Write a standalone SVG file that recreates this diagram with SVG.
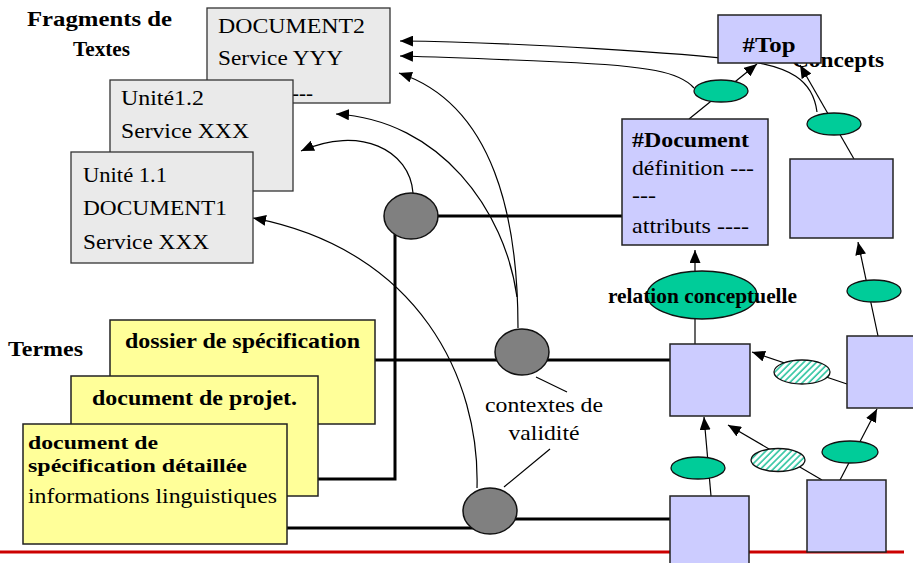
<svg xmlns="http://www.w3.org/2000/svg" width="913" height="563" viewBox="0 0 913 563">
  <style>
    text { font-family: "Liberation Serif", "Times New Roman", serif; font-size: 21px; fill: #000; }
    .b { font-weight: bold; }
    .s20 { font-size: 19px; }
    .frag { fill: #EAEAEA; stroke: #333; stroke-width: 1.3; }
    .term { fill: #FFFF99; stroke: #222; stroke-width: 1.5; }
    .concept { fill: #CCCCFF; stroke: #222; stroke-width: 1.5; }
    .ctx { fill: #808080; stroke: #111; stroke-width: 1.5; }
    .rel { fill: #00CC99; stroke: #111; stroke-width: 1.3; }
    .relh { fill: url(#hatch); stroke: #111; stroke-width: 1.3; }
    .thin { fill: none; stroke: #000; stroke-width: 1.2; }
    .thick { fill: none; stroke: #000; stroke-width: 3; }
    .arr { marker-end: url(#tip); }
  </style>
  <defs>
    <marker id="tip" markerUnits="userSpaceOnUse" markerWidth="13" markerHeight="11" refX="13" refY="5.5" orient="auto">
      <path d="M0,0 L13,5.5 L0,11 z" fill="#000"/>
    </marker>
    <pattern id="hatch" patternUnits="userSpaceOnUse" width="4.5" height="4.5" patternTransform="rotate(45)">
      <rect width="4.5" height="4.5" fill="#fff"/>
      <line x1="1" y1="0" x2="1" y2="4.5" stroke="#2EC4A0" stroke-width="1.6"/>
    </pattern>
  </defs>

  <rect width="913" height="563" fill="#fff"/>

  <!-- baseline rule -->
  <line x1="0" y1="552" x2="904" y2="552" stroke="#CC0000" stroke-width="3"/>

  <!-- section titles -->
  <g id="titles">
    <text class="b" x="27" y="26" textLength="145" lengthAdjust="spacingAndGlyphs">Fragments  de</text>
    <text class="b" x="73" y="56" textLength="57" lengthAdjust="spacingAndGlyphs">Textes</text>
    <text class="b" x="8" y="356" textLength="75" lengthAdjust="spacingAndGlyphs">Termes</text>
    <text class="b" x="792" y="67" textLength="92" lengthAdjust="spacingAndGlyphs">Concepts</text>
  </g>

  <g id="connectors">
    <!-- links from contexts to text fragments -->
    <path class="thin arr" d="M817,112 C813,80 790,66 740,60 S520,42 400,41"/>
    <path class="thin arr" d="M694,88 C680,72 650,66 560,62 S440,57 400,56"/>
    <path class="thin arr" d="M518,328 C518,220 495,105 399,73"/>
    <path class="thin arr" d="M517,297 C505,210 440,120 336,114"/>
    <path class="thin arr" d="M413,193 C410,150 360,125 301,151"/>
    <path class="thin arr" d="M477,488 C480,380 420,250 253,218"/>

    <!-- term / concept links through contexts -->
    <path class="thick" d="M411,216 H622"/>
    <path class="thick" d="M395,225 V479 H318"/>
    <path class="thick" d="M375,360 H670"/>
    <path class="thick" d="M287,528 H480"/>
    <path class="thick" d="M490,519 H670"/>

    <!-- label leaders -->
    <line class="thin" x1="536" y1="377" x2="567" y2="392"/>
    <line class="thin" x1="550" y1="449" x2="504" y2="487"/>

    <!-- conceptual relations -->
    <line class="thin arr" x1="689" y1="119" x2="757" y2="64"/>
    <line class="thin arr" x1="854" y1="159" x2="800" y2="65"/>
    <line class="thin arr" x1="695" y1="344" x2="695" y2="250"/>
    <line class="thin arr" x1="711" y1="496" x2="704" y2="417"/>
    <line class="thin arr" x1="822" y1="480" x2="728" y2="425"/>
    <line class="thin arr" x1="840" y1="480" x2="877" y2="409"/>
    <line class="thin arr" x1="847" y1="384" x2="752" y2="352"/>
    <line class="thin arr" x1="878" y1="336" x2="858" y2="242"/>
  </g>

  <!-- text fragments -->
  <g id="frag-document2">
    <rect class="frag" x="207" y="8" width="183" height="95"/>
    <text x="218" y="33" textLength="147" lengthAdjust="spacingAndGlyphs">DOCUMENT2</text>
    <text x="218" y="65" textLength="125" lengthAdjust="spacingAndGlyphs">Service YYY</text>
    <text x="313" y="100" text-anchor="end">----</text>
  </g>
  <g id="frag-unite12">
    <rect class="frag" x="110" y="80" width="183" height="111"/>
    <text x="121" y="105" textLength="83" lengthAdjust="spacingAndGlyphs">Unité1.2</text>
    <text x="121" y="138" textLength="128" lengthAdjust="spacingAndGlyphs">Service XXX</text>
  </g>
  <g id="frag-unite11">
    <rect class="frag" x="71" y="152" width="182" height="111"/>
    <text x="83" y="182" textLength="84" lengthAdjust="spacingAndGlyphs">Unité 1.1</text>
    <text x="83" y="215" textLength="144" lengthAdjust="spacingAndGlyphs">DOCUMENT1</text>
    <text x="83" y="249" textLength="126" lengthAdjust="spacingAndGlyphs">Service XXX</text>
  </g>

  <!-- terms -->
  <g id="term-dossier">
    <rect class="term" x="110" y="320" width="265" height="104"/>
    <text class="b" x="125" y="348" textLength="235" lengthAdjust="spacingAndGlyphs">dossier de spécification</text>
  </g>
  <g id="term-projet">
    <rect class="term" x="71" y="376" width="247" height="120"/>
    <text class="b" x="92" y="405" textLength="205" lengthAdjust="spacingAndGlyphs">document de projet.</text>
  </g>
  <g id="term-detaillee">
    <rect class="term" x="23" y="424" width="264" height="120"/>
    <text class="b s20" x="28" y="449" textLength="130" lengthAdjust="spacingAndGlyphs">document de</text>
    <text class="b s20" x="28" y="472" textLength="219" lengthAdjust="spacingAndGlyphs">spécification détaillée</text>
    <text x="28" y="503" textLength="249" lengthAdjust="spacingAndGlyphs">informations linguistiques</text>
  </g>

  <!-- validity contexts -->
  <g id="ctx-1"><ellipse class="ctx" cx="411" cy="216" rx="27" ry="23"/></g>
  <g id="ctx-2"><ellipse class="ctx" cx="522" cy="352" rx="27" ry="23"/></g>
  <g id="ctx-3"><ellipse class="ctx" cx="490" cy="511" rx="27" ry="23"/></g>
  <g id="ctx-label">
    <text x="544" y="412" text-anchor="middle" textLength="118" lengthAdjust="spacingAndGlyphs">contextes de</text>
    <text x="544" y="440" text-anchor="middle" textLength="71" lengthAdjust="spacingAndGlyphs">validité</text>
  </g>

  <!-- concepts -->
  <g id="concept-top">
    <rect class="concept" x="718" y="15" width="103" height="48"/>
    <text class="b" x="769" y="52" text-anchor="middle" textLength="53" lengthAdjust="spacingAndGlyphs">#Top</text>
  </g>
  <g id="concept-document">
    <rect class="concept" x="622" y="119" width="146" height="126"/>
    <text class="b" x="632" y="147" textLength="117" lengthAdjust="spacingAndGlyphs">#Document</text>
    <text x="632" y="175" textLength="122" lengthAdjust="spacingAndGlyphs">définition ---</text>
    <text x="632" y="202" textLength="24" lengthAdjust="spacingAndGlyphs">---</text>
    <text x="632" y="233" textLength="117" lengthAdjust="spacingAndGlyphs">attributs ----</text>
  </g>
  <g id="concept-a"><rect class="concept" x="790" y="159" width="103" height="79"/></g>
  <g id="concept-b"><rect class="concept" x="847" y="336" width="70" height="72"/></g>
  <g id="concept-c"><rect class="concept" x="670" y="344" width="80" height="72"/></g>
  <g id="concept-d"><rect class="concept" x="670" y="496" width="79" height="74"/></g>
  <g id="concept-e"><rect class="concept" x="807" y="480" width="79" height="72"/></g>

  <!-- relations -->
  <g id="rel-doc-top"><ellipse class="rel" cx="721" cy="91" rx="27" ry="11"/></g>
  <g id="rel-a-top"><ellipse class="rel" cx="834" cy="124" rx="27" ry="11"/></g>
  <g id="rel-b-a"><ellipse class="rel" cx="874" cy="291" rx="27" ry="11"/></g>
  <g id="rel-e-b"><ellipse class="rel" cx="850" cy="452" rx="28" ry="11"/></g>
  <g id="rel-d-c"><ellipse class="rel" cx="698" cy="468" rx="27" ry="11"/></g>
  <g id="rel-b-c"><ellipse class="relh" cx="802" cy="372" rx="28" ry="12"/></g>
  <g id="rel-e-c"><ellipse class="relh" cx="778" cy="460" rx="27" ry="11.5"/></g>
  <g id="rel-conceptuelle">
    <ellipse class="rel" cx="702" cy="295" rx="55" ry="24"/>
    <text class="b" x="608" y="303" textLength="189" lengthAdjust="spacingAndGlyphs">relation conceptuelle</text>
  </g>
</svg>
